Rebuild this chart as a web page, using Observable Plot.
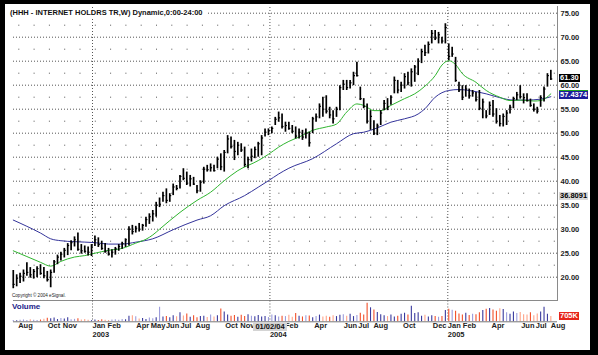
<!DOCTYPE html>
<html><head><meta charset="utf-8">
<script src="https://cdn.jsdelivr.net/npm/d3@7"></script>
<script src="https://cdn.jsdelivr.net/npm/@observablehq/plot@0.6"></script>
<style>
html,body{margin:0;padding:0;background:#000;}
#wrap{position:relative;width:598px;height:355px;background:#000;overflow:hidden;font-family:"Liberation Sans",Arial,sans-serif;}
#panel{position:absolute;left:5px;top:4px;width:585px;height:346px;background:#fff;}
.layer{position:absolute;left:0;top:0;}
#frameline{position:absolute;left:13px;top:6px;width:544px;height:294px;border-right:1.5px solid #8a8a8a;border-bottom:1.5px solid #8a8a8a;}
#title{position:absolute;left:10px;top:8px;font-size:7.5px;font-weight:bold;background:#fff;padding-right:3px;line-height:9px;color:#111;white-space:nowrap;}
#copy{position:absolute;left:12px;top:293px;font-size:4.6px;color:#222;white-space:nowrap;}
#vollab{position:absolute;left:12px;top:302px;font-size:8px;font-weight:bold;color:#1c1c8a;}
.tag{position:absolute;font-size:7.5px;font-weight:bold;line-height:8px;height:8px;padding:0 1px;white-space:nowrap;}
</style></head>
<body><div id="wrap"><div id="panel"></div><div id="frameline"></div></div>
<script>
// ---- data ----
const firstWeek = "2002-07-22";
const high = [
21.4,20.5,20.8,21.5,23.0,22.0,21.6,22.2,22.6,22.0,
21.2,21.5,23.5,24.6,25.2,26.0,27.0,27.6,28.4,29.2,
26.8,26.5,26.3,26.8,28.6,28.2,27.5,27.0,26.0,25.7,
26.2,26.8,27.3,28.0,30.5,30.8,30.6,31.2,31.0,32.5,
33.2,33.9,35.6,36.5,37.7,38.4,37.4,39.4,39.1,41.2,
42.6,41.9,41.2,40.8,39.1,40.1,42.9,43.3,43.6,43.3,
45.0,45.7,46.4,49.5,49.2,48.5,48.1,47.8,47.1,45.0,
46.7,47.1,48.1,49.5,50.9,50.9,51.3,53.3,54.4,54.0,
52.3,52.3,51.6,51.3,50.9,50.6,50.9,50.2,53.3,54.0,
56.1,57.5,57.8,55.4,54.7,55.4,59.9,61.0,61.0,61.0,
62.7,64.8,59.6,57.2,56.1,54.7,52.6,51.9,54.7,56.8,
57.2,57.8,61.7,61.0,60.6,62.4,62.7,63.4,64.1,65.5,
67.5,68.3,69.0,71.4,71.4,71.0,70.0,72.8,68.6,67.9,
65.8,60.6,59.9,59.9,59.2,58.9,58.5,58.9,57.1,54.7,
56.5,56.8,55.1,53.7,54.0,54.7,55.8,57.5,58.5,59.9,
58.2,58.2,57.1,56.1,55.4,57.8,59.6,62.4,63.1];
const low = [
17.6,18.0,18.7,19.0,20.2,19.8,19.6,19.9,20.4,19.7,
19.0,17.8,20.8,22.6,23.4,24.0,24.5,25.5,26.3,25.4,
24.8,25.0,24.4,24.3,26.4,26.2,25.6,25.0,24.4,24.0,
24.6,25.4,25.8,26.2,26.5,28.8,29.2,29.4,29.6,30.4,
31.0,31.5,32.5,34.5,35.6,35.3,35.6,37.0,38.0,38.4,
40.1,39.1,38.8,39.1,37.4,37.7,39.4,41.9,41.9,41.9,
42.6,42.2,41.9,45.7,46.7,44.3,45.3,46.0,42.9,42.6,
44.0,44.7,45.0,45.3,49.2,49.5,49.9,51.6,52.3,50.9,
50.2,50.6,49.9,48.8,48.8,48.5,48.8,47.1,49.9,52.3,
53.0,53.3,54.0,53.0,51.9,53.3,54.7,58.9,58.9,59.2,
59.9,61.7,56.8,55.1,51.9,50.6,49.5,49.5,51.6,54.7,
54.7,55.8,58.2,58.2,58.5,59.2,59.9,59.6,60.6,62.0,
64.5,66.0,66.5,68.6,69.3,68.6,68.6,68.6,65.1,65.8,
60.6,58.5,56.8,57.5,57.1,57.5,56.5,54.7,53.0,53.0,
53.7,53.3,51.9,51.3,51.3,51.6,54.0,55.1,56.8,57.1,
56.1,56.5,55.4,54.4,54.0,55.4,56.5,59.6,61.0];
const close = [
18.5,19.8,20.2,20.8,21.0,20.5,21.2,21.8,20.8,20.3,
19.5,21.0,23.2,24.2,24.8,25.6,26.6,27.2,27.8,25.8,
25.5,25.4,25.2,26.5,27.8,26.8,26.0,25.4,24.8,25.2,
25.9,26.4,27.0,27.8,30.0,29.5,30.2,30.0,30.8,32.0,
32.6,33.2,35.0,35.2,37.0,36.0,37.0,38.8,38.5,41.0,
40.6,39.6,40.5,39.4,38.0,39.8,42.5,42.4,42.8,42.2,
44.6,43.0,46.0,48.8,47.2,46.2,47.5,46.5,43.5,44.5,
45.2,46.6,47.8,49.0,50.2,50.5,51.0,52.9,53.2,51.4,
51.6,51.0,50.4,49.4,50.2,49.2,50.0,48.0,53.0,53.4,
55.6,55.0,54.6,53.8,53.0,55.0,59.5,60.2,59.5,60.5,
62.0,62.0,57.2,55.6,52.5,53.5,50.0,51.5,54.2,56.2,
55.5,57.5,61.0,59.0,60.0,61.8,60.5,62.8,63.8,65.0,
67.0,66.8,68.5,70.8,69.8,70.5,69.2,72.0,66.0,66.5,
61.0,59.0,57.5,59.2,57.8,58.4,57.0,55.2,56.5,53.6,
55.8,54.0,52.5,52.0,53.5,54.2,55.4,57.2,58.0,57.6,
57.4,56.8,55.8,55.0,54.6,57.4,59.2,62.0,61.3];
const volumeK = [
180,150,200,250,170,260,220,180,240,330,
490,420,520,300,450,380,550,260,330,400,
230,300,200,150,230,180,260,200,170,240,
290,210,320,260,750,820,680,380,450,300,
520,420,560,1950,640,720,560,800,680,1200,
780,1050,620,800,540,700,760,580,900,650,
820,1720,1330,900,760,850,620,880,700,950,
760,680,830,640,720,580,900,800,660,740,
700,880,600,1100,760,650,820,780,560,700,
900,650,750,600,820,700,880,950,760,1000,
700,830,1150,900,2500,1880,1600,1250,950,800,
700,900,650,750,1000,1150,900,2100,1100,1200,
750,880,650,800,700,600,720,1500,1700,1550,
1400,1050,900,1150,850,1000,950,1200,1500,1700,
1800,1600,1400,1750,1650,1200,1000,1300,1100,1250,
950,900,1200,800,1050,1300,1950,1000,705];
// moving averages read at sample weeks (week index, value)
const greenWeek = [0,4,8,11,14,18,21,24,28,32,36,39,41,43,49,54,58,62,66,72,75,78,81,84,88,92,95,98,101,103,106,108,111,115,118,121,124,126,128,130,132,136,139,143,146,149,153,155,158];
const greenVal  = [25.5,24.3,23.1,22.3,23.3,24.2,24.5,25.0,25.6,26.0,27.1,27.9,28.8,30.0,33.5,36.0,37.7,40.1,42.2,44.3,45.6,47.1,48.3,49.2,50.6,51.3,51.9,54.4,56.1,55.8,54.7,54.7,55.8,57.2,58.2,59.8,62.0,64.2,65.1,64.3,62.4,60.6,58.9,57.5,56.8,56.9,56.7,56.8,58.2];
const blueWeek = [0,4,8,11,14,18,24,28,32,36,41,47,54,58,62,68,72,75,78,81,88,95,100,103,107,111,115,119,121,124,128,131,134,139,143,147,151,155,158];
const blueVal  = [31.9,30.6,29.2,28.0,27.6,27.4,27.2,26.9,26.9,27.3,28.0,29.9,31.9,32.8,34.9,37.0,38.75,40.1,41.5,42.7,44.7,47.8,49.9,50.2,51.1,52.3,53.0,54.0,55.1,57.5,58.9,59.1,58.9,58.2,57.4,56.9,56.9,57.1,57.6];
const priceTicks = [20,25,30,35,40,45,50,55,60,65,70,75];
const halfTicks = [22.5,27.5,32.5,37.5,42.5,47.5,52.5,57.5,62.5,67.5,72.5];
const yearStarts = ["2003-01-01","2004-01-01","2005-01-01"];
const monthDates = ["2002-08-01","2002-10-01","2002-11-01","2003-01-01","2003-02-01","2003-04-01","2003-05-01","2003-06-01","2003-07-01","2003-08-01","2003-10-01","2003-11-01","2004-02-01","2004-04-01","2004-06-01","2004-07-01","2004-08-01","2004-10-01","2004-12-01","2005-01-01","2005-02-01","2005-04-01","2005-06-01","2005-07-01","2005-08-01"];
const monthNames = ["Aug","Oct","Nov","Jan","Feb","Apr","May","Jun","Jul","Aug","Oct","Nov","Feb","Apr","Jun","Jul","Aug","Oct","Dec","Jan","Feb","Apr","Jun","Jul","Aug"];
const yearNames = ["2003","2004","2005"];
const tags = [
  {v: 61.30, text: "61.30", bg: "#000", fg: "#fff", dy: 0},
  {v: 58.10, text: "58.1042", bg: "#1fa31f", fg: "#fff", dy: 0},
  {v: 57.4374, text: "57.4374", bg: "#1c1c9a", fg: "#fff", dy: -2},
  {v: 36.8091, text: "36.8091", bg: "#d9d9d9", fg: "#000", dy: 0}
];
const lastVolumeTag = "705K";

// ---- build tables ----
const start = new Date(firstWeek + "T00:00:00Z");
const bars = high.map((h, i) => ({
  date: d3.utcDay.offset(start, 7 * i), high: h, low: low[i], close: close[i],
  vol: volumeK[i], chg: i ? close[i] - close[i - 1] : 0
}));
const green = greenWeek.map((w, k) => ({date: bars[w].date, v: greenVal[k]}));
const blue = blueWeek.map((w, k) => ({date: bars[w].date, v: blueVal[k]}));
const years = yearStarts.map((d, k) => ({date: new Date(d + "T00:00:00Z"), name: yearNames[k]}));
const months = monthDates.map((d, k) => ({date: new Date(d + "T00:00:00Z"), name: monthNames[k]}));

const xScale = {type: "utc", domain: [new Date("2003-01-01T00:00:00Z"), new Date("2005-01-01T00:00:00Z")], range: [92, 447.3]};
const font = "font-family:'Liberation Sans',Arial,sans-serif;background:transparent;overflow:visible;";

const price = Plot.plot({
  width: 598, height: 355, marginLeft: 13, marginRight: 41, marginTop: 7, marginBottom: 55,
  style: font,
  x: {...xScale, axis: null},
  y: {domain: [20, 75], range: [276.7, 12.7], axis: null},
  marks: [
    Plot.ruleY(priceTicks, {stroke: "#555", strokeDasharray: "1,2", strokeWidth: 1}),
    Plot.ruleY(halfTicks, {stroke: "#555", strokeDasharray: "1,14.3", strokeDashoffset: 10, strokeWidth: 1}),
    Plot.ruleX(years, {x: "date", stroke: "#555", strokeDasharray: "1,2", strokeWidth: 1}),
    Plot.line(blue, {x: "date", y: "v", stroke: "#33339a", strokeWidth: 1, curve: "monotone-x"}),
    Plot.line(green, {x: "date", y: "v", stroke: "#2fb52f", strokeWidth: 1, curve: "monotone-x"}),
    Plot.ruleX(bars, {x: "date", y1: "low", y2: "high", stroke: "#000", strokeWidth: 1.7}),
    Plot.ruleY(bars, {x1: "date", x2: d => d3.utcDay.offset(d.date, 4), y: "close", stroke: "#000", strokeWidth: 1.2}),
    Plot.axisY(priceTicks, {anchor: "right", tickSize: 0, tickPadding: 3, tickFormat: d3.format(".2f"), fontSize: 7.5, fontWeight: "bold", fill: "#222"})
  ]
});
price.classList.add("layer");

const volume = Plot.plot({
  width: 598, height: 355, marginLeft: 13, marginRight: 41, marginTop: 300.5, marginBottom: 33.5,
  style: font,
  x: {...xScale, axis: null},
  y: {domain: [0, 2550], range: [321.3, 302.3], axis: null},
  marks: [
    Plot.ruleX(years, {x: "date", stroke: "#555", strokeDasharray: "1,2", strokeWidth: 1}),
    Plot.ruleX(bars, {x: "date", y1: 0, y2: "vol", strokeWidth: 1.1,
      stroke: d => d.chg >= 0 ? (d.chg > 0.8 ? "#3a3a9e" : "#9c9cdc") : (d.chg < -0.8 ? "#f2502a" : "#ffa488")}),
    Plot.ruleY([0], {stroke: "#777", strokeWidth: 1}),
    Plot.text(months, {x: "date", text: "name", frameAnchor: "bottom", dy: 6, textAnchor: "start", fontSize: 7.5, fontWeight: "bold", fill: "#222"}),
    Plot.text(years, {x: "date", text: "name", frameAnchor: "bottom", dy: 15, textAnchor: "start", fontSize: 7.5, fontWeight: "bold", fill: "#222"})
  ]
});
volume.classList.add("layer");

const wrap = document.getElementById("wrap");
wrap.appendChild(price);
wrap.appendChild(volume);

function addDiv(id, html) { const d = document.createElement("div"); d.id = id; d.innerHTML = html; wrap.appendChild(d); return d; }
addDiv("title", "(HHH - INTERNET HOLDRS TR,W) Dynamic,0:00-24:00");
addDiv("copy", "Copyright &copy; 2004 eSignal.");
addDiv("vollab", "Volume");

const ys = price.scale("y"), xs = price.scale("x"), vs = volume.scale("y");
for (const t of tags) {
  const d = document.createElement("div");
  d.className = "tag"; d.textContent = t.text;
  d.style.background = t.bg; d.style.color = t.fg;
  d.style.left = "559px"; d.style.top = (ys.apply(t.v) - 4 + t.dy) + "px";
  wrap.appendChild(d);
}
const vt = document.createElement("div");
vt.className = "tag"; vt.textContent = lastVolumeTag;
vt.style.background = "#e6261a"; vt.style.color = "#fff";
vt.style.left = "559px"; vt.style.top = (vs.apply(volumeK[volumeK.length - 1]) - 4) + "px";
wrap.appendChild(vt);
const dateBox = document.createElement("div");
dateBox.className = "tag"; dateBox.textContent = "01/02/04";
dateBox.style.background = "#d4d4d4"; dateBox.style.color = "#111";
dateBox.style.padding = "0 2px"; dateBox.style.height = "9px"; dateBox.style.lineHeight = "9px";
dateBox.style.left = (xs.apply(years[1].date) - 16) + "px"; dateBox.style.top = "322px";
wrap.appendChild(dateBox);
</script></body></html>
